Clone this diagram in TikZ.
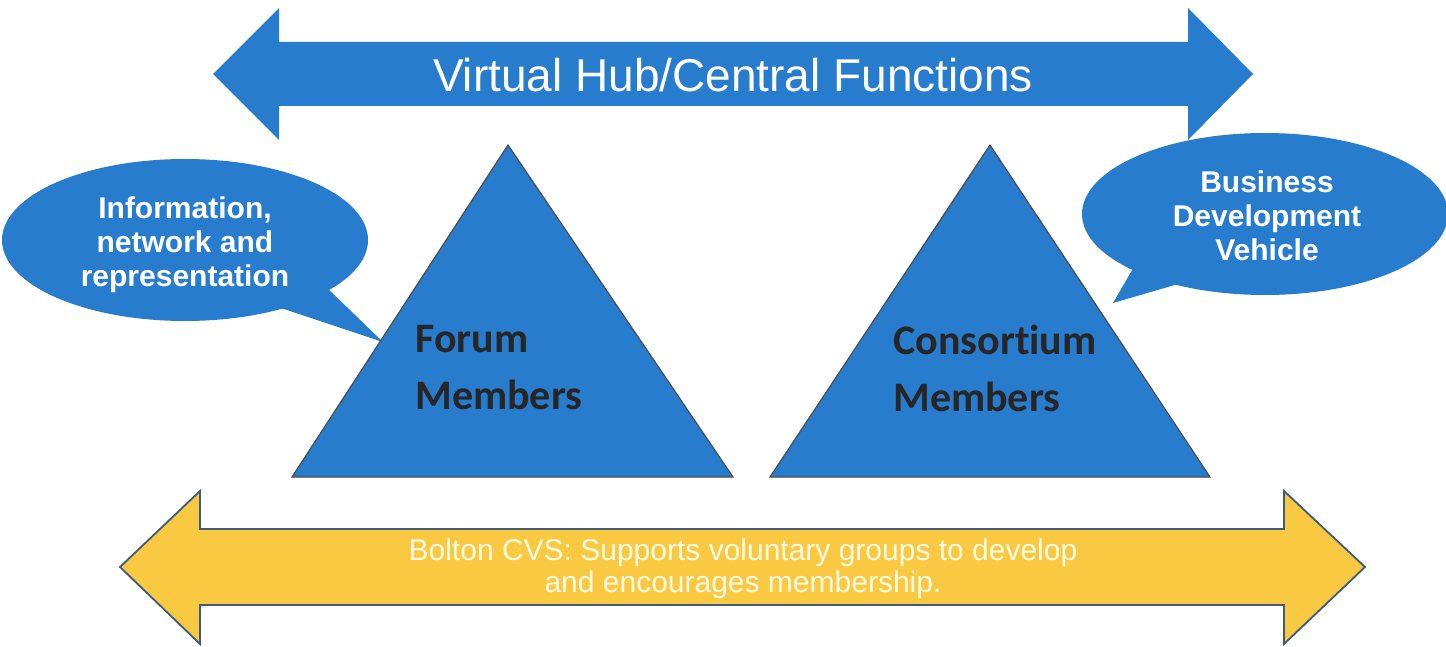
\documentclass[tikz,border=0pt]{standalone}
\usepackage{fontspec}
\setmainfont{Liberation Sans}
\newfontfamily\memfont[Ligatures=NoCommon]{Carlito}
\usetikzlibrary{shapes.geometric}
\definecolor{hubblue}{RGB}{40,124,206}
\definecolor{cvsyellow}{RGB}{250,201,66}
\definecolor{cvsedge}{RGB}{62,92,122}
\definecolor{cvstext}{RGB}{255,250,228}
\tikzset{
  bubble/.style={ellipse, fill=hubblue, inner sep=0pt, minimum width=183pt, minimum height=81pt},
  bubbletext/.style={text=white, align=center, font=\bfseries\fontsize{15}{17}\selectfont},
  memtext/.style={anchor=west, inner sep=0pt, align=left, text=black!85, font=\memfont\bfseries\fontsize{21}{28.5}\selectfont},
  tri/.style={fill=hubblue, draw=black!70, line width=0.6pt, line join=miter}
}
\begin{document}
\begin{tikzpicture}[x=0.5pt, y=-0.5pt]
    \useasboundingbox (0,0) rectangle (1446,647);
    % top arrow
    \fill[hubblue] (213,74) -- (279,8) -- (279,42) -- (1188,42) -- (1188,8) -- (1253,74)
        -- (1188,140) -- (1188,106) -- (279,106) -- (279,140) -- cycle;
    \node[text=white, font=\fontsize{23}{28}\selectfont] (hub) at (733,75) {Virtual Hub/Central Functions};
    % bottom arrow
    \filldraw[fill=cvsyellow, draw=cvsedge, line width=0.9pt] (120,567) -- (200,491) -- (200,529) -- (1284,529)
        -- (1284,491) -- (1365,567) -- (1284,644) -- (1284,605) -- (200,605) -- (200,644) -- cycle;
    \node[text=cvstext, align=center, font=\fontsize{15}{16}\selectfont] (cvs) at (743,569)
        {Bolton CVS: Supports voluntary groups to develop\\and encourages membership.};
    % speech bubbles
    \node[bubble] (info) at (185,240) {};
    \node[bubbletext] (infotext) at (185,245) {Information,\\network and\\representation};
    \coordinate (infotip) at (383,342);
    \fill[hubblue] (325,286) -- (infotip) -- (272,305) -- cycle;
    \node[bubble] (bdv) at (1265,214) {};
    \node[bubbletext] (bdvtext) at (1267,216) {Business\\Development\\Vehicle};
    \coordinate (bdvtip) at (1113,303);
    \fill[hubblue] (1135,265) -- (bdvtip) -- (1185,282) -- cycle;
    % triangles
    \draw[tri] (292,477) -- (508,145) -- (733,477) -- cycle;
    \draw[tri] (770,477) -- (990,145) -- (1210,477) -- cycle;
    \node[memtext] (forum) at (415,368) {Forum\\Members};
    \node[memtext] (consort) at (893,368) {Consortium\\Members};
\end{tikzpicture}
\end{document}
